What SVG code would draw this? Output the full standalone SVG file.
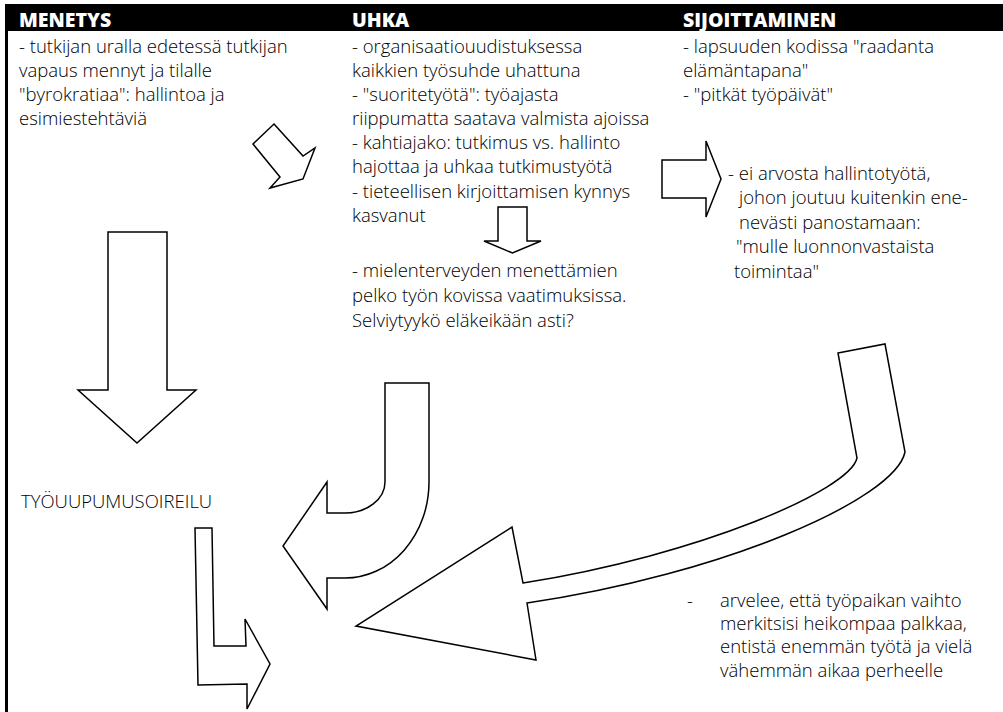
<svg xmlns="http://www.w3.org/2000/svg" width="1003" height="712" viewBox="0 0 1003 712">
  <style>
    .t { font-family: "Open Sans", "Noto Sans", sans-serif; font-size: 18.5px; font-weight: 300; fill: #000; }
    .h { font-family: "Open Sans", "DejaVu Sans", sans-serif; font-size: 19.5px; font-weight: 800; fill: #fff; }
    .arrow { fill: #fff; stroke: #000; stroke-width: 1.5; stroke-linejoin: miter; }
  </style>
  <rect width="1003" height="712" fill="#fff"/>

  <!-- header strip and left rule -->
  <g id="frame">
    <rect x="5" y="4" width="998" height="27" fill="#000"/>
    <rect x="5" y="4" width="3" height="708" fill="#000"/>
    <text class="h" x="19" y="27">MENETYS</text>
    <text class="h" x="352" y="27">UHKA</text>
    <text class="h" x="683" y="27">SIJOITTAMINEN</text>
  </g>

  <g id="menetys">
    <text class="t" x="19" y="53">- tutkijan uralla edetessä tutkijan</text>
    <text class="t" x="19" y="77">vapaus mennyt ja tilalle</text>
    <text class="t" x="19" y="101">"byrokratiaa": hallintoa ja</text>
    <text class="t" x="19" y="125">esimiestehtäviä</text>
  </g>

  <g id="uhka">
    <text class="t" x="352" y="53">- organisaatiouudistuksessa</text>
    <text class="t" x="352" y="77">kaikkien työsuhde uhattuna</text>
    <text class="t" x="352" y="101">- "suoritetyötä": työajasta</text>
    <text class="t" x="352" y="125">riippumatta saatava valmista ajoissa</text>
    <text class="t" x="352" y="149">- kahtiajako: tutkimus vs. hallinto</text>
    <text class="t" x="352" y="173">hajottaa ja uhkaa tutkimustyötä</text>
    <text class="t" x="352" y="198">- tieteellisen kirjoittamisen kynnys</text>
    <text class="t" x="352" y="222">kasvanut</text>
  </g>

  <g id="pelko">
    <text class="t" x="352" y="277">- mielenterveyden menettämien</text>
    <text class="t" x="352" y="302">pelko työn kovissa vaatimuksissa.</text>
    <text class="t" x="352" y="327">Selviytyykö eläkeikään asti?</text>
  </g>

  <g id="sijoittaminen">
    <text class="t" x="683" y="53">- lapsuuden kodissa "raadanta</text>
    <text class="t" x="683" y="77">elämäntapana"</text>
    <text class="t" x="683" y="101">- "pitkät työpäivät"</text>
  </g>

  <g id="hallintotyo">
    <text class="t" x="728" y="180">- ei arvosta hallintotyötä,</text>
    <text class="t" x="739" y="204">johon joutuu kuitenkin ene-</text>
    <text class="t" x="739" y="229">nevästi panostamaan:</text>
    <text class="t" x="736" y="253">"mulle luonnonvastaista</text>
    <text class="t" x="734" y="278">toimintaa"</text>
  </g>

  <g id="tyouupumus">
    <text class="t" x="21" y="508">TYÖUUPUMUSOIREILU</text>
  </g>

  <g id="vaihto">
    <text class="t" x="687" y="607">-</text>
    <text class="t" x="720" y="607">arvelee, että työpaikan vaihto</text>
    <text class="t" x="720" y="630">merkitsisi heikompaa palkkaa,</text>
    <text class="t" x="720" y="653">entistä enemmän työtä ja vielä</text>
    <text class="t" x="720" y="677">vähemmän aikaa perheelle</text>
  </g>

  <!-- block arrows -->
  <g id="connectors">
    <polygon class="arrow" points="274,124 303,156 315,148 303,179 270,188 280,177 253,144"/>
    <polygon class="arrow" points="108,232 167,232 167,390 196,390 137,443 78,390 108,390"/>
    <polygon class="arrow" points="498,207 527,207 527,241 541,241 512.5,253 484,241 498,241"/>
    <polygon class="arrow" points="662,160 706,160 706,141 721,179 706,217 706,198 662,198"/>
    <polygon class="arrow" points="195,528 212,528 214,646 246,646 245,619 270,664 247,709 247,684 198,685"/>
    <path class="arrow" d="M385,383 H429 V482 A84,96 0 0 1 345,578 H327 V609 L283,546 L327,482 V513 H345 A40,31 0 0 0 385,482 Z"/>
    <path class="arrow" d="M838,353 L885,344 L905,452 C895,500 720,575 527,603 L536,660 L356,626 L512,527 L523,583 C700,555 850,490 857,458 Z"/>
  </g>
</svg>
